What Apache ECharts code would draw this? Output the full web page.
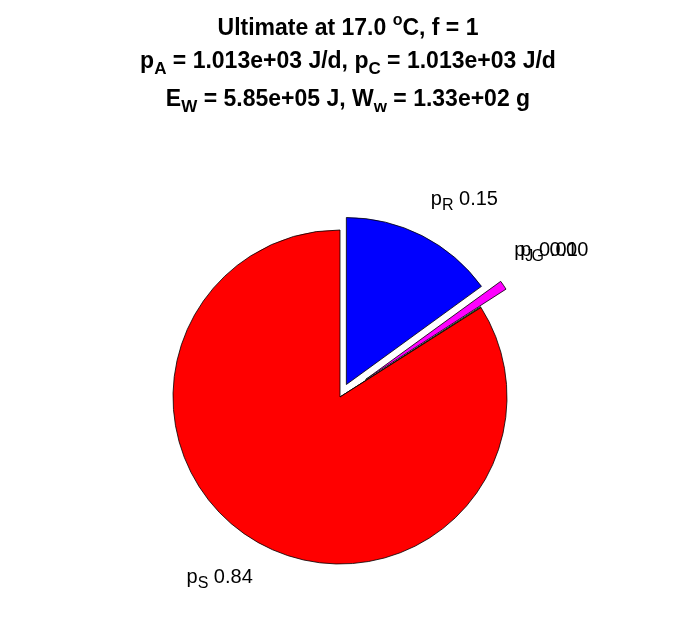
<!DOCTYPE html>
<html>
<head>
<meta charset="utf-8">
<script src="https://cdn.jsdelivr.net/npm/echarts@6/dist/echarts.min.js"></script>
<style>
  html, body { margin: 0; padding: 0; background: #ffffff; }
  #chart { width: 696px; height: 618px; }
</style>
</head>
<body>
<div id="chart"></div>
<script>
// ---- data ----
const sliceSubs   = ['R', 'J', 'G', 'S'];
const sliceValues = [0.15, 0.009, 0.001, 0.84];
const explodedSlices = ['R', 'J'];
// title lines (rich text fragments)
const titleLine1 = '{b|Ultimate at 17.0 }{sup|o}{b|C, f = 1}';
const titleLine2 = '{b|p}{sub|A}{b| = 1.013e+03 J/d, p}{sub|C}{b| = 1.013e+03 J/d}';
const titleLine3 = '{b|E}{sub|W}{b| = 5.85e+05 J, W}{sub|w}{b| = 1.33e+02 g}';

// ---- styles ----
const sliceColors = { R: '#0000ff', J: '#ff00ff', G: '#00ff00', S: '#ff0000' };
const FONT = "'Liberation Sans', Arial, Helvetica, sans-serif";
const titleRich = {
  b:   { fontFamily: FONT, fontSize: 23, fontWeight: 'bold', color: '#000', lineHeight: 27 },
  sub: { fontFamily: FONT, fontSize: 17, fontWeight: 'bold', color: '#000', lineHeight: 27, padding: [15, 0, 0, 0] },
  sup: { fontFamily: FONT, fontSize: 16, fontWeight: 'bold', color: '#000', lineHeight: 27, padding: [0, 0, 15, 0] }
};
const labelRich = {
  p: { fontFamily: FONT, fontSize: 20, color: '#000', lineHeight: 23 },
  s: { fontFamily: FONT, fontSize: 16, color: '#000', lineHeight: 23, padding: [13, 0, 0, 0] }
};
// label nudges (dx, dy) per slice
const labelNudge = { R: [-15, 0], J: [-28, -12], G: [0, -35], S: [18, -2] };

const CENTER = [340, 397];
const RADIUS = 167;

function fmtLabel(sub, v) {
  return '{p|p}{s|' + sub + '}{p| ' + v.toFixed(2) + '}';
}

function buildData(visibleSet) {
  return sliceSubs.map(function (sub, i) {
    const vis = visibleSet.indexOf(sub) >= 0;
    return {
      name: 'p' + sub,
      value: sliceValues[i],
      selected: explodedSlices.indexOf(sub) >= 0,
      itemStyle: vis ? { color: sliceColors[sub], borderColor: '#000', borderWidth: 0.8 }
                     : { color: 'rgba(0,0,0,0)', borderWidth: 0, opacity: 0 },
      label: { show: vis, formatter: fmtLabel(sub, sliceValues[i]), rich: labelRich },
      labelLine: { show: false }
    };
  });
}

function makeLayout() {
  return function (params) {
    const sub = sliceSubs[params.dataIndex];
    const n = labelNudge[sub] || [0, 0];
    return { dx: n[0], dy: n[1] };
  };
}

const chart = echarts.init(document.getElementById('chart'), null, { renderer: 'canvas' });
chart.setOption({
  animation: false,
  backgroundColor: '#ffffff',
  title: [
    { text: titleLine1, left: 'center', top: 10, textStyle: { rich: titleRich } },
    { text: titleLine2, left: 'center', top: 43, textStyle: { rich: titleRich } },
    { text: titleLine3, left: 'center', top: 81, textStyle: { rich: titleRich } }
  ],
  series: [
    {
      type: 'pie',
      center: CENTER,
      radius: RADIUS,
      startAngle: 90,
      clockwise: true,
      selectedMode: 'multiple',
      selectedOffset: 14,
      avoidLabelOverlap: false,
      silent: true,
      emphasis: { disabled: true },
      label: { position: 'outside', alignTo: 'none' },
      labelLine: { show: false, length: 41, length2: 0 },
      labelLayout: makeLayout(),
      data: buildData(['R', 'G', 'S'])
    },
    {
      type: 'pie',
      center: CENTER,
      radius: RADIUS,
      startAngle: 90,
      clockwise: true,
      selectedMode: 'multiple',
      selectedOffset: 31,
      avoidLabelOverlap: false,
      silent: true,
      emphasis: { disabled: true },
      label: { position: 'outside', alignTo: 'none' },
      labelLine: { show: false, length: 41, length2: 0 },
      labelLayout: makeLayout(),
      data: buildData(['J'])
    }
  ]
});
</script>
</body>
</html>
